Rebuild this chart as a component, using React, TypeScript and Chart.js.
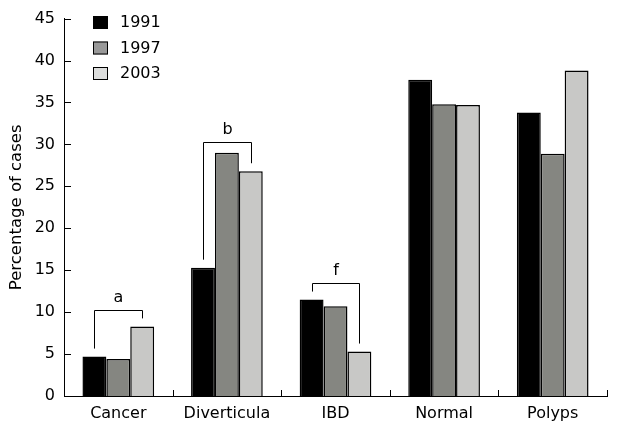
import React, { useEffect, useRef } from "react";
import { Chart, registerables } from "chart.js";

Chart.register(...registerables);

const categories = ["Cancer", "Diverticula", "IBD", "Normal", "Polyps"];
const seriesLabels = ["1991", "1997", "2003"];
const values1991 = [4.7, 15.3, 11.5, 37.7, 33.8];
const values1997 = [4.4, 29.0, 10.7, 34.8, 28.9];
const values2003 = [8.3, 26.8, 5.3, 34.7, 38.8];
const barColors = ["#000000", "#858681", "#c8c8c6"];
const legendColors = ["#000000", "#999999", "#dcdddc"];
const yTicks = [0, 5, 10, 15, 20, 25, 30, 35, 40, 45];

// significance brackets: category index, label, bracket top value
const bracketCategories = [0, 1, 2];
const bracketLabels = ["a", "b", "f"];
const bracketTops = [10.3, 30.3, 13.5];

const FONT = "DejaVu Sans, Verdana, sans-serif";

const extrasPlugin = {
  id: "extras",
  afterDraw(chart: any) {
    const ctx = chart.ctx;
    const area = chart.chartArea;
    const y = chart.scales.y;
    ctx.save();
    ctx.strokeStyle = "#000";
    ctx.lineWidth = 1;
    // inward ticks
    ctx.beginPath();
    yTicks.forEach((v) => {
      const py = Math.round(y.getPixelForValue(v)) + 0.5;
      ctx.moveTo(area.left, py);
      ctx.lineTo(area.left + 7, py);
    });
    const n = categories.length;
    const w = (area.right - area.left) / n;
    for (let k = 1; k <= n; k++) {
      const px = Math.round(area.left + k * w) + 0.5;
      ctx.moveTo(px, area.bottom);
      ctx.lineTo(px, area.bottom - 6);
    }
    ctx.stroke();

    // brackets
    const m0 = chart.getDatasetMeta(0);
    const m2 = chart.getDatasetMeta(2);
    ctx.font = "16px " + FONT;
    ctx.fillStyle = "#000";
    ctx.textAlign = "center";
    ctx.textBaseline = "middle";
    bracketCategories.forEach((ci, i) => {
      const x1 = Math.round(m0.data[ci].x) + 0.5;
      const x2 = Math.round(m2.data[ci].x) + 0.5;
      const top = Math.round(y.getPixelForValue(bracketTops[i])) + 0.5;
      const l1 = y.getPixelForValue(values1991[ci]) - 8;
      const l2 = y.getPixelForValue(values2003[ci]) - 8;
      ctx.beginPath();
      ctx.moveTo(x1, l1);
      ctx.lineTo(x1, top);
      ctx.lineTo(x2, top);
      ctx.lineTo(x2, l2);
      ctx.stroke();
      ctx.fillText(bracketLabels[i], (x1 + x2) / 2, top - 13);
    });

    // legend
    ctx.textAlign = "left";
    seriesLabels.forEach((lab, i) => {
      const by = 16 + i * 25.5;
      ctx.fillStyle = legendColors[i];
      ctx.fillRect(93, by, 15, 13);
      ctx.strokeStyle = "#000";
      ctx.strokeRect(93.5, by + 0.5, 14, 12);
      ctx.fillStyle = "#000";
      ctx.fillText(lab, 120, by + 7);
    });
    ctx.restore();
  },
};

export default function App() {
  const ref = useRef<HTMLCanvasElement | null>(null);
  useEffect(() => {
    document.body.style.margin = "0";
    const seriesValues = [values1991, values1997, values2003];
    const chart = new Chart(ref.current as HTMLCanvasElement, {
      type: "bar",
      data: {
        labels: categories,
        datasets: seriesLabels.map((lab, i) => ({
          label: lab,
          data: seriesValues[i],
          backgroundColor: barColors[i],
          borderColor: "#000",
          borderWidth: 1.5,
          categoryPercentage: 0.66,
          barPercentage: 1,
        })),
      },
      options: {
        responsive: false,
        animation: false,
        layout: { padding: { left: 0, right: 13, top: 16, bottom: 0 } },
        plugins: { legend: { display: false }, tooltip: { enabled: false } },
        scales: {
          x: {
            grid: { display: false, drawTicks: false },
            border: { display: true, color: "#000", width: 1 },
            ticks: { color: "#000", font: { family: FONT, size: 16 }, padding: 8 },
            afterFit: (s: any) => {
              s.height = 37;
            },
          },
          y: {
            min: 0,
            max: 45,
            grid: { display: false, drawTicks: false },
            border: { display: true, color: "#000", width: 1 },
            ticks: {
              stepSize: 5,
              color: "#000",
              font: { family: FONT, size: 16 },
              padding: 9,
            },
            title: {
              display: true,
              text: "Percentage of cases",
              color: "#000",
              font: { family: FONT, size: 16.5 },
              padding: { top: 7, bottom: 0 },
            },
            afterFit: (s: any) => {
              s.width = 64;
            },
          },
        },
      },
      plugins: [extrasPlugin],
    });
    return () => chart.destroy();
  }, []);
  return (
    <div style={{ width: 620, height: 433 }}>
      <canvas ref={ref} width={620} height={433} />
    </div>
  );
}
